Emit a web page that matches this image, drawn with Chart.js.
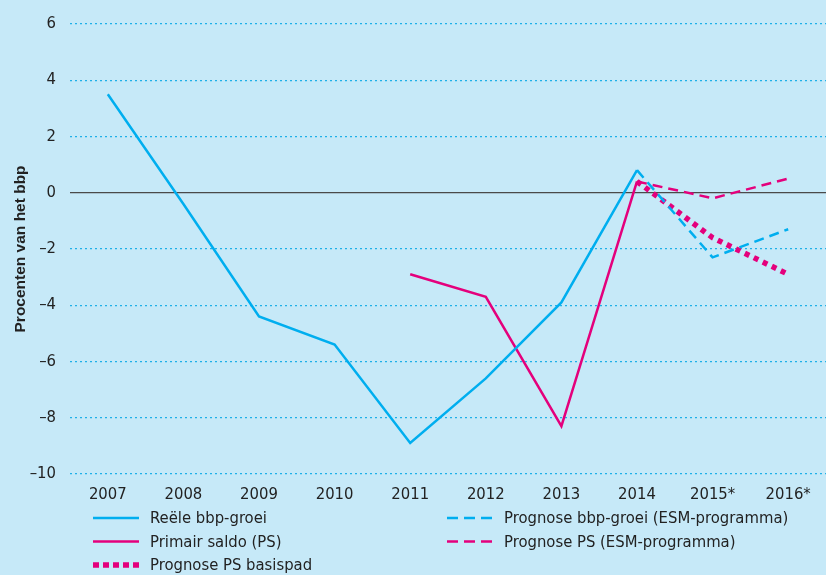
<!DOCTYPE html>
<html>
<head>
<meta charset="utf-8">
<script src="https://cdn.jsdelivr.net/npm/chart.js@4"></script>
<style>
html, body { margin: 0; padding: 0; background: #c6e9f8; }
#wrap { width: 826px; height: 575px; }
</style>
</head>
<body>
<div id="wrap"><canvas id="chart" width="826" height="575"></canvas></div>
<script>
var years = ['2007', '2008', '2009', '2010', '2011', '2012', '2013', '2014', '2015*', '2016*'];
var yTicks = [-10, -8, -6, -4, -2, 0, 2, 4, 6];

var bbpGroei = [3.5, -0.4, -4.4, -5.4, -8.9, -6.6, -3.9, 0.8, null, null];
var primairSaldo = [null, null, null, null, -2.9, -3.7, -8.3, 0.4, null, null];
var prognoseBbp = [null, null, null, null, null, null, null, 0.8, -2.3, -1.3];
var prognosePsEsm = [null, null, null, null, null, null, null, 0.4, -0.2, 0.5];
var prognosePsBasis = [null, null, null, null, null, null, null, 0.4, -1.6, -2.9];

var blue = '#00aeef';
var pink = '#e4007c';
var font = "'Liberation Sans Narrow', 'DejaVu Sans Condensed', sans-serif";

// legend op twee kolommen, zoals in het origineel
var legendItems = [
    { ds: 0, col: 0, row: 0 },
    { ds: 1, col: 0, row: 1 },
    { ds: 4, col: 0, row: 2 },
    { ds: 2, col: 1, row: 0 },
    { ds: 3, col: 1, row: 1 }
];

var customLegend = {
    id: 'customLegend',
    afterDraw: function(chart) {
        var ctx = chart.ctx;
        var cols = [93, 447];
        ctx.save();
        legendItems.forEach(function(it) {
            var ds = chart.data.datasets[it.ds];
            var x = cols[it.col];
            var y = 518 + it.row * 23.5;
            ctx.beginPath();
            ctx.strokeStyle = ds.borderColor;
            ctx.lineWidth = ds.borderWidth;
            ctx.setLineDash(ds.borderDash ? (it.ds === 4 ? [6, 4] : [11, 6]) : []);
            ctx.moveTo(x, y);
            ctx.lineTo(x + 46, y);
            ctx.stroke();
            ctx.setLineDash([]);
            ctx.fillStyle = '#222';
            ctx.font = '16.5px ' + font;
            ctx.textBaseline = 'middle';
            ctx.fillText(ds.label, x + 57, y + 1);
        });
        ctx.restore();
    }
};

var zeroLine = {
    id: 'zeroLine',
    beforeDatasetsDraw: function(chart) {
        var ctx = chart.ctx;
        var y = chart.scales.y.getPixelForValue(0);
        ctx.save();
        ctx.beginPath();
        ctx.strokeStyle = '#4a4a4a';
        ctx.lineWidth = 1.2;
        ctx.moveTo(chart.chartArea.left, y);
        ctx.lineTo(chart.chartArea.right, y);
        ctx.stroke();
        ctx.restore();
    }
};

var bg = {
    id: 'bg',
    beforeDraw: function(chart) {
        var ctx = chart.ctx;
        ctx.save();
        ctx.fillStyle = '#c6e9f8';
        ctx.fillRect(0, 0, chart.width, chart.height);
        ctx.restore();
    }
};

var ctx = document.getElementById('chart').getContext('2d');
var myChart = new Chart(ctx, {
    type: 'line',
    data: {
        labels: years,
        datasets: [
            { label: 'Reële bbp-groei', data: bbpGroei, borderColor: blue, borderWidth: 2.5 },
            { label: 'Primair saldo (PS)', data: primairSaldo, borderColor: pink, borderWidth: 2.5 },
            { label: 'Prognose bbp-groei (ESM-programma)', data: prognoseBbp, borderColor: blue, borderWidth: 2.5, borderDash: [10, 6] },
            { label: 'Prognose PS (ESM-programma)', data: prognosePsEsm, borderColor: pink, borderWidth: 2.5, borderDash: [10, 6] },
            { label: 'Prognose PS basispad', data: prognosePsBasis, borderColor: pink, borderWidth: 5.5, borderDash: [5, 5] }
        ]
    },
    options: {
        responsive: false,
        animation: false,
        layout: { padding: { top: 10, right: 0, bottom: 71, left: 0 } },
        elements: {
            point: { radius: 0, hoverRadius: 0 },
            line: { tension: 0, borderCapStyle: 'butt', fill: false }
        },
        plugins: {
            legend: { display: false },
            tooltip: { enabled: false }
        },
        scales: {
            x: {
                offset: true,
                grid: { display: false },
                border: { display: false },
                ticks: { color: '#222', font: { family: font, size: 16.5 }, padding: 3, maxRotation: 0 },
                afterFit: function(scale) { scale.height = 30; }
            },
            y: {
                min: -10,
                max: 6,
                afterBuildTicks: function(scale) {
                    scale.ticks = yTicks.map(function(v) { return { value: v }; });
                },
                grid: {
                    color: function(c) { return c.tick && c.tick.value === 0 ? 'rgba(0,0,0,0)' : '#1fb0e8'; },
                    lineWidth: 1.2,
                    drawTicks: false
                },
                border: { display: false, dash: [2, 3] },
                ticks: {
                    color: '#222',
                    font: { family: font, size: 16.5 },
                    padding: 14,
                    callback: function(v) { return v < 0 ? '\u2013' + Math.abs(v) : String(v); }
                },
                title: {
                    display: true,
                    text: 'Procenten van het bbp',
                    color: '#222',
                    font: { family: "'Liberation Sans', Arial, sans-serif", size: 15.5, weight: 'bold' },
                    padding: { top: 11, bottom: 0 }
                },
                afterFit: function(scale) { scale.width = 70; }
            }
        }
    },
    plugins: [bg, zeroLine, customLegend]
});
</script>
</body>
</html>
